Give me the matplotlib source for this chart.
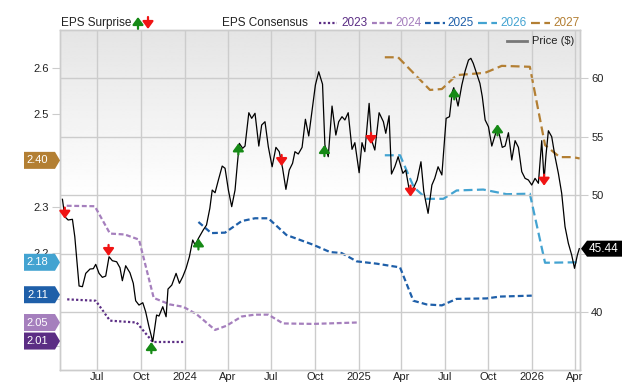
import matplotlib
matplotlib.use("Agg")
import matplotlib.pyplot as plt
import numpy as np
import pandas as pd
from matplotlib.patches import Polygon
from matplotlib.lines import Line2D
from matplotlib.transforms import blended_transform_factory

plt.rcParams["font.family"] = ["Liberation Sans", "DejaVu Sans"]

# --- Prezzo (scala destra) ---
price_dates = [
    "2023-04-19", "2023-04-24", "2023-05-01", "2023-05-10", "2023-05-15", "2023-05-24",
    "2023-05-31", "2023-06-07", "2023-06-16", "2023-06-23", "2023-06-28", "2023-07-05",
    "2023-07-12", "2023-07-19", "2023-07-26", "2023-08-02", "2023-08-11", "2023-08-18",
    "2023-08-23", "2023-08-30", "2023-09-08", "2023-09-15", "2023-09-20", "2023-09-27",
    "2023-10-05", "2023-10-11", "2023-10-18", "2023-10-26", "2023-11-03", "2023-11-08",
    "2023-11-16", "2023-11-23", "2023-11-27", "2023-12-05", "2023-12-14", "2023-12-21",
    "2023-12-28", "2024-01-04", "2024-01-11", "2024-01-18", "2024-01-23", "2024-01-30",
    "2024-02-09", "2024-02-16", "2024-02-23", "2024-02-28", "2024-03-05", "2024-03-12",
    "2024-03-20", "2024-03-26", "2024-04-02", "2024-04-09", "2024-04-16", "2024-04-21",
    "2024-04-25", "2024-05-02", "2024-05-07", "2024-05-15", "2024-05-21", "2024-05-28",
    "2024-06-05", "2024-06-11", "2024-06-18", "2024-06-25", "2024-07-03", "2024-07-11",
    "2024-07-18", "2024-07-25", "2024-08-01", "2024-08-08", "2024-08-15", "2024-08-20",
    "2024-08-27", "2024-09-04", "2024-09-11", "2024-09-18", "2024-09-27", "2024-10-02",
    "2024-10-09", "2024-10-17", "2024-10-22", "2024-10-29", "2024-11-06", "2024-11-14",
    "2024-11-20", "2024-11-27", "2024-12-03", "2024-12-10", "2024-12-18", "2024-12-24",
    "2025-01-02", "2025-01-08", "2025-01-14", "2025-01-23", "2025-01-28", "2025-02-04",
    "2025-02-13", "2025-02-22", "2025-02-27", "2025-03-06", "2025-03-11", "2025-03-18",
    "2025-03-25", "2025-04-04", "2025-04-10", "2025-04-19", "2025-04-27", "2025-05-04",
    "2025-05-12", "2025-05-18", "2025-05-27", "2025-06-04", "2025-06-10", "2025-06-17",
    "2025-06-25", "2025-07-04", "2025-07-11", "2025-07-17", "2025-07-20", "2025-07-29",
    "2025-08-06", "2025-08-13", "2025-08-20", "2025-08-25", "2025-08-30", "2025-09-06",
    "2025-09-13", "2025-09-18", "2025-09-24", "2025-10-01", "2025-10-08", "2025-10-15",
    "2025-10-20", "2025-10-25", "2025-10-30", "2025-11-05", "2025-11-12", "2025-11-19",
    "2025-11-26", "2025-12-03", "2025-12-10", "2025-12-17", "2025-12-24", "2025-12-31",
    "2026-01-07", "2026-01-14", "2026-01-21", "2026-01-26", "2026-01-30", "2026-02-04",
    "2026-02-11", "2026-02-18", "2026-02-25", "2026-03-04", "2026-03-11", "2026-03-18",
    "2026-03-25", "2026-03-31", "2026-04-06", "2026-04-10",
]
price_values = [
    49.66, 48.17, 47.89, 47.95, 46.46, 42.25,
    42.19, 43.33, 43.70, 43.73, 44.10, 43.33,
    42.99, 43.10, 44.75, 44.41, 44.32, 43.81,
    42.70, 43.98, 43.38, 42.48, 40.99, 40.62,
    40.82, 40.05, 38.77, 37.49, 39.77, 39.68,
    40.48, 39.62, 41.99, 42.33, 43.33, 42.48,
    43.04, 43.76, 44.75, 46.18, 45.75, 46.32,
    47.03, 47.46, 48.89, 50.45, 50.22, 51.31,
    52.50, 52.31, 50.45, 49.03, 50.45, 52.74,
    54.44, 54.02, 54.21, 57.06, 56.58, 57.01,
    54.21, 56.01, 56.29, 54.15, 52.44, 54.10,
    53.73, 52.31, 50.51, 52.16, 52.74, 53.73,
    53.53, 54.10, 56.50, 55.07, 57.86, 59.43,
    60.56, 59.50, 54.30, 53.30, 57.63, 55.15,
    56.29, 56.72, 56.44, 57.06, 53.93, 54.50,
    51.93, 54.50, 53.73, 57.86, 54.73, 53.87,
    57.06, 56.29, 55.30, 56.80, 51.82, 52.44,
    53.30, 51.88, 52.16, 50.11, 50.68, 51.31,
    52.87, 50.31, 48.46, 50.88, 51.45, 52.44,
    51.74, 56.58, 56.72, 58.85, 59.20, 57.63,
    59.43, 60.64, 61.56, 61.71, 61.28, 60.43,
    59.57, 58.43, 56.44, 55.86, 54.21, 55.15,
    55.73, 55.01, 54.10, 54.21, 55.35, 53.02,
    54.67, 54.10, 52.02, 51.45, 51.31, 50.88,
    51.45, 51.03, 54.67, 51.31, 53.44, 55.52,
    55.01, 53.30, 51.88, 50.17, 47.32, 45.90,
    44.90, 43.76, 44.90, 45.44,
]
last_price = 45.44

# --- EPS Surprise (frecce sul prezzo) ---
surprise_dates = ["2023-04-24", "2023-07-25", "2023-10-23", "2024-01-30", "2024-04-23",
                  "2024-07-23", "2024-10-21", "2025-01-27", "2025-04-20", "2025-07-21",
                  "2025-10-20", "2026-01-26"]
surprise_prices = [48.0, 44.81, 37.46, 46.32, 54.44, 52.50, 54.30, 54.38, 49.88, 59.15,
                   56.07, 50.82]
surprise_beat = [False, False, True, True, True, False, True, False, False, True, True, False]

# --- EPS Consensus per anno fiscale (scala sinistra) ---
eps23_dates = ["2023-04-29", "2023-06-28", "2023-07-28", "2023-09-22", "2023-10-26", "2023-12-29"]
eps23_values = [2.100, 2.097, 2.054, 2.050, 2.008, 2.008]

eps24_dates = ["2023-04-28", "2023-06-26", "2023-07-28", "2023-08-28", "2023-09-27", "2023-10-28",
               "2023-12-01", "2023-12-29", "2024-01-26", "2024-03-05", "2024-03-29", "2024-04-30",
               "2024-05-28", "2024-06-25", "2024-07-26", "2024-09-27", "2024-12-28"]
eps24_values = [2.302, 2.301, 2.242, 2.240, 2.229, 2.103, 2.089, 2.084, 2.068, 2.034, 2.043,
                2.063, 2.067, 2.067, 2.048, 2.047, 2.050]

eps25_dates = ["2024-01-30", "2024-02-26", "2024-03-26", "2024-04-30", "2024-05-28", "2024-06-25",
               "2024-08-02", "2024-09-27", "2024-11-02", "2024-11-26", "2024-12-28", "2025-02-08",
               "2025-03-29", "2025-04-26", "2025-05-24", "2025-06-25", "2025-07-26", "2025-09-27",
               "2025-10-25", "2025-12-31"]
eps25_values = [2.267, 2.243, 2.244, 2.269, 2.275, 2.275, 2.239, 2.218, 2.202, 2.200, 2.182,
                2.177, 2.169, 2.097, 2.089, 2.087, 2.101, 2.102, 2.106, 2.108]

eps26_dates = ["2025-02-25", "2025-03-29", "2025-04-27", "2025-05-24", "2025-06-28", "2025-07-26",
               "2025-09-20", "2025-11-08", "2025-12-27", "2026-01-28", "2026-04-07"]
eps26_values = [2.411, 2.411, 2.342, 2.317, 2.317, 2.335, 2.337, 2.327, 2.328, 2.179, 2.180]

eps27_dates = ["2025-02-25", "2025-03-25", "2025-05-31", "2025-06-25", "2025-07-26", "2025-09-24",
               "2025-10-29", "2025-12-27", "2026-01-28", "2026-02-28", "2026-03-28", "2026-04-11"]
eps27_values = [2.6225, 2.6225, 2.552, 2.554, 2.584, 2.589, 2.604, 2.602, 2.433, 2.407, 2.407,
                2.404]

series = [
    ("2023", eps23_dates, eps23_values, "#5b2d84", (1.0, 1.0), 2.01),
    ("2024", eps24_dates, eps24_values, "#a57fbd", (2.2, 1.2), 2.05),
    ("2025", eps25_dates, eps25_values, "#1e5fa9", (2.6, 1.4), 2.11),
    ("2026", eps26_dates, eps26_values, "#43a3d1", (4.0, 2.0), 2.18),
    ("2027", eps27_dates, eps27_values, "#b37f33", (4.0, 2.0), 2.40),
]

tick_dates = ["2023-07-01", "2023-10-01", "2024-01-01", "2024-04-01", "2024-07-01", "2024-10-01",
              "2025-01-01", "2025-04-01", "2025-07-01", "2025-10-01", "2026-01-01", "2026-04-01"]
tick_labels = ["Jul", "Oct", "2024", "Apr", "Jul", "Oct", "2025", "Apr", "Jul", "Oct", "2026", "Apr"]
eps_ticks = [2.0, 2.1, 2.2, 2.3, 2.4, 2.5, 2.6]
eps_tick_labels = ["", "", "2.2", "2.3", "", "2.5", "2.6"]   # gli altri sono coperti dai badge
price_ticks = [40, 45, 50, 55, 60]
price_tick_labels = ["40", "", "50", "55", "60"]

W, H = 640, 382
fig = plt.figure(figsize=(W / 100, H / 100), dpi=100)
ax = fig.add_axes([60.3 / W, 12 / H, (580 - 60.3) / W, (370 - 30) / H])
ax2 = ax.twinx()

grid_c = "#cccccc"
txt_c = "#222222"

# sfondo sfumato
grad = np.ones((256, 1))
grad[128:, 0] = np.linspace(1.0, 0.895, 128)
ax.imshow(grad, cmap="gray", vmin=0, vmax=1, aspect="auto", extent=[0, 1, 0, 1],
          transform=ax.transAxes, origin="lower", zorder=0, interpolation="bilinear")

for name, d, v, c, dash, last in series:
    ax.plot(pd.to_datetime(d), v, color=c, lw=1.6, dashes=dash, zorder=3,
            solid_capstyle="butt", dash_capstyle="butt")

ax2.plot(pd.to_datetime(price_dates), price_values, color="black", lw=0.9, zorder=4)

for d, p, beat in zip(surprise_dates, surprise_prices, surprise_beat):
    col = "#168a16" if beat else "#f01414"
    off = -8 if beat else 8
    ax2.annotate("", xy=(pd.Timestamp(d), p), xytext=(0, off), textcoords="offset points",
                 arrowprops=dict(arrowstyle="-|>,head_length=0.55,head_width=0.4",
                                 color=col, lw=1.6, shrinkA=0, shrinkB=0, mutation_scale=8),
                 zorder=6)

xmin, xmax = pd.Timestamp("2023-04-14 12:00"), pd.Timestamp("2026-04-11 12:00")
ax.set_xlim(xmin, xmax)
ax.set_ylim(1.9475, 2.6814)
ax2.set_ylim(35.07, 64.13)

ax.set_xticks(pd.to_datetime(tick_dates))
ax.set_xticklabels(tick_labels)
ax.set_yticks(eps_ticks)
ax.set_yticklabels(eps_tick_labels)
ax2.set_yticks(price_ticks)
ax2.set_yticklabels(price_tick_labels)

ax.grid(axis="x", color=grid_c, lw=1.0)
ax2.grid(axis="y", color=grid_c, lw=1.0)
ax.set_axisbelow(True)
ax.tick_params(axis="x", length=0, pad=1.5, labelsize=8, labelcolor=txt_c)
ax.tick_params(axis="y", length=6, color=grid_c, pad=2, labelsize=8, labelcolor=txt_c)
ax2.tick_params(axis="y", length=6, color=grid_c, pad=2, labelsize=8, labelcolor=txt_c)
for a in (ax, ax2):
    for s in a.spines.values():
        s.set_color(grid_c)
        s.set_linewidth(1.0)

fig.canvas.draw()

# badge a sinistra (ultimo valore consenso)
px_per_eps = (370 - 30) / (2.6814 - 1.9475)
half = 8.5 / px_per_eps
tr_left = blended_transform_factory(fig.transFigure, ax.transData)
for name, d, v, c, dash, last in series:
    x0, x1, xt = 24 / W, 55 / W, 60 / W
    verts = [(x0, last - half), (x1, last - half), (xt, last), (x1, last + half), (x0, last + half)]
    fig.add_artist(Polygon(verts, closed=True, transform=tr_left, facecolor=c,
                           edgecolor="none", clip_on=False, zorder=10))
    fig.text(37.5 / W, last, f"{last:.2f}", transform=tr_left, color="white", fontsize=8,
             ha="center", va="center", zorder=11)

# badge a destra (ultimo prezzo)
px_per_usd = (370 - 30) / (64.13 - 35.07)
halfp = 8 / px_per_usd
tr_right = blended_transform_factory(fig.transFigure, ax2.transData)
verts = [(581 / W, last_price), (587 / W, last_price + halfp), (622 / W, last_price + halfp),
         (622 / W, last_price - halfp), (587 / W, last_price - halfp)]
fig.add_artist(Polygon(verts, closed=True, transform=tr_right, facecolor="black",
                       edgecolor="none", clip_on=False, zorder=10))
fig.text(604 / W, last_price, f"{last_price:.2f}", transform=tr_right, color="white",
         fontsize=8.5, ha="center", va="center", zorder=11)

# legenda in alto
ly = (H - 23) / H
fig.text(60.7 / W, ly, "EPS Surprise", fontsize=8.5, color=txt_c, va="center", ha="left")
ax.annotate("", xy=(138 / W, (H - 17) / H), xytext=(138 / W, (H - 29) / H),
            xycoords="figure fraction", textcoords="figure fraction",
            arrowprops=dict(arrowstyle="-|>,head_length=0.55,head_width=0.4", color="#168a16",
                            lw=1.6, shrinkA=0, shrinkB=0, mutation_scale=8))
ax.annotate("", xy=(148 / W, (H - 29) / H), xytext=(148 / W, (H - 17) / H),
            xycoords="figure fraction", textcoords="figure fraction",
            arrowprops=dict(arrowstyle="-|>,head_length=0.55,head_width=0.4", color="#f01414",
                            lw=1.6, shrinkA=0, shrinkB=0, mutation_scale=8))
fig.text(222 / W, ly, "EPS Consensus", fontsize=8.5, color=txt_c, va="center", ha="left")
leg_pos = [(319, 337, 341.7), (371.7, 391.7, 395), (425, 445, 447.7), (478, 497, 500),
           (531, 550, 553)]
for (name, d, v, c, dash, last), (a0, a1, tx) in zip(series, leg_pos):
    fig.add_artist(Line2D([a0 / W, a1 / W], [ly, ly], transform=fig.transFigure, color=c,
                          lw=1.6, dashes=dash))
    fig.text(tx / W, ly, name, fontsize=8.5, color=c, va="center", ha="left")

py = (H - 41) / H
fig.add_artist(Line2D([507 / W, 527 / W], [py, py], transform=fig.transFigure,
                      color="#777777", lw=2))
fig.text(532 / W, py, "Price ($)", fontsize=8, color=txt_c, va="center", ha="left")

fig.savefig("out.png", dpi=100)
